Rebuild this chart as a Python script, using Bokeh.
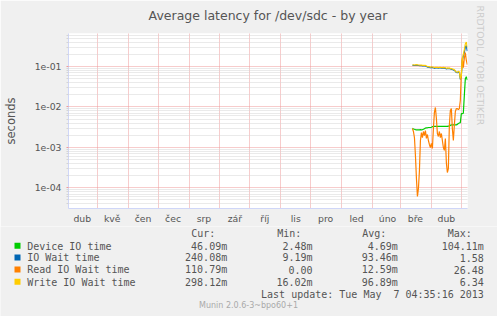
import json
import pandas as pd
from bokeh.plotting import figure
from bokeh.layouts import column
from bokeh.models import Range1d, FixedTicker, CustomJSTickFormatter, Title
from bokeh.core.properties import value
from bokeh.embed import file_html
from bokeh.resources import INLINE

# ---------------- data ----------------
title = "Average latency for /dev/sdc - by year"
month_names = ["led", "úno", "bře", "dub", "kvě", "čen", "čec", "srp", "zář", "říj", "lis", "pro"]
sample_dates = pd.date_range("2013-03-13", "2013-05-07", freq="D")

device_io = [2.95e-3, 2.85e-3, 2.8e-3, 2.75e-3, 2.72e-3, 2.7e-3, 2.7e-3, 2.72e-3, 2.75e-3, 2.72e-3,
             2.75e-3, 2.8e-3, 2.9e-3, 3.0e-3, 3.05e-3, 3.05e-3, 3.1e-3, 3.1e-3, 3.1e-3,
             3.15e-3, 3.25e-3, 3.3e-3, 3.3e-3, 3.3e-3, 3.3e-3, 3.3e-3, 3.3e-3, 3.3e-3, 3.3e-3,
             3.3e-3, 3.3e-3, 3.3e-3, 3.3e-3, 3.3e-3, 3.3e-3, 3.3e-3, 3.35e-3, 3.4e-3, 3.5e-3,
             3.6e-3, 3.6e-3, 3.6e-3, 3.6e-3, 3.6e-3, 3.6e-3, 3.7e-3, 3.9e-3, 4.0e-3, 4.1e-3,
             6.8e-3, 6.8e-3, 7.0e-3, 1.9e-2, 5.0e-2, 5.6e-2, 4.61e-2]
io_wait = [0.107, 0.107, 0.106, 0.107, 0.108, 0.107, 0.106, 0.105, 0.106, 0.105,
           0.104, 0.104, 0.103, 0.103, 0.100, 0.097, 0.097, 0.095, 0.093,
           0.095, 0.094, 0.093, 0.090, 0.092, 0.092, 0.092, 0.091, 0.092, 0.092,
           0.091, 0.091, 0.092, 0.091, 0.090, 0.087, 0.089, 0.088, 0.089, 0.087,
           0.086, 0.084, 0.082, 0.080, 0.076, 0.071, 0.070, 0.073, 0.071, 0.048,
           0.058, 0.140, 0.180, 0.220, 0.300, 0.330, 0.240]
read_wait = [2.93e-3, 2.47e-3, 1.75e-3, 6.3e-4, 1.7e-4, 6.1e-5, 9.6e-5, 2.68e-4, 1.48e-3, 2.33e-3,
             1.75e-3, 2.47e-3, 1.96e-3, 2.61e-3, 1.66e-3, 2.08e-3, 1.48e-3, 1.18e-3, 9.9e-4,
             1.25e-3, 9.4e-4, 2.93e-3, 7.3e-3, 9.7e-3, 5.2e-3, 2.2e-3, 1.86e-3, 2.47e-3, 1.75e-3,
             2.2e-3, 1.48e-3, 9.9e-4, 8.4e-4, 1.66e-3, 4.2e-4, 2.39e-4, 3.0e-4, 3.5e-3, 8.2e-3,
             9.1e-3, 2.93e-3, 1.48e-3, 3.5e-3, 7.7e-3, 9.1e-3, 9.1e-3, 8.6e-3, 9.1e-3, 1.44e-2,
             6.7e-2, 0.167, 0.094, 0.158, 0.222, 0.141, 0.1108]
write_wait = [0.110, 0.110, 0.109, 0.110, 0.111, 0.110, 0.109, 0.108, 0.109, 0.108,
              0.107, 0.107, 0.106, 0.106, 0.103, 0.100, 0.100, 0.098, 0.096,
              0.098, 0.097, 0.096, 0.094, 0.095, 0.095, 0.095, 0.094, 0.095, 0.095,
              0.094, 0.094, 0.095, 0.094, 0.093, 0.090, 0.092, 0.091, 0.092, 0.090,
              0.089, 0.087, 0.085, 0.083, 0.078, 0.073, 0.072, 0.076, 0.074, 0.050,
              0.060, 0.150, 0.200, 0.260, 0.360, 0.400, 0.298]

series_names = ["Device IO time", "IO Wait time", "Read IO Wait time", "Write IO Wait time"]
series_values = [device_io, io_wait, read_wait, write_wait]
series_colors = ["#00CC00", "#0066B3", "#FF8000", "#FFCC00"]
col_headers = ["Cur:", "Min:", "Avg:", "Max:"]
cur_vals = ["46.09m", "240.08m", "110.79m", "298.12m"]
min_vals = ["2.48m", "9.19m", "0.00", "16.02m"]
avg_vals = ["4.69m", "93.46m", "12.59m", "96.89m"]
max_vals = ["104.11m", "1.58", "26.48", "6.34"]
last_update = "Last update: Tue May\u00a0 7 04:35:16 2013"
version_text = "Munin 2.0.6-3~bpo60+1"
watermark = "RRDTOOL / TOBI OETIKER"
start_time = pd.Timestamp("2012-04-02 04:35:16")
end_time = pd.Timestamp("2013-05-07 04:35:16")

# ---------------- styling ----------------
W, H = 497, 316
MAIN_H = 226
FL, FR, FT, FB = 67, 467, 33, 208
TXT = "#555555"
BG = "#F0F0F0"
AXC = "#CFD6F8"
MAJ = "#EE9999"
MIN = "#D4D4D4"

p = figure(width=W, height=MAIN_H, output_backend="svg", toolbar_location=None,
           x_axis_type="datetime", y_axis_type="log",
           x_range=Range1d(start_time, end_time), y_range=Range1d(3.076e-5, 0.6548),
           min_border_left=FL, min_border_right=W - FR, min_border_top=FT,
           min_border_bottom=MAIN_H - FB)
p.frame_align = False
p.background_fill_color = "white"
p.border_fill_color = BG
p.outline_line_color = None

p.title.text = title
p.title.align = "center"
p.title.vertical_align = "top"
p.title.text_font = "DejaVu Sans"
p.title.text_font_size = "12.5px"
p.title.text_font_style = "normal"
p.title.text_color = TXT
p.title.standoff = 15.5

p.add_layout(Title(text=watermark, align="left", offset=-28, standoff=15,
                   text_font="DejaVu Sans", text_font_size="9.3px", text_font_style="normal",
                   text_color="#CCCCCC"), "right")

for vals, col in zip(series_values, series_colors):
    p.line(sample_dates, vals, line_color=col, line_width=1.2)

# x axis: month labels at mid-month, grid at month starts
month_starts = pd.date_range("2012-04-01", "2013-05-01", freq="MS")
grid_ms = [d.value / 1e6 for d in month_starts if d > start_time]
mid_ms = [(d + pd.Timedelta(days=15)).value / 1e6 for d in month_starts[:-1]]
xax = p.below[0]
xax.ticker = FixedTicker(ticks=mid_ms)
xax.formatter = CustomJSTickFormatter(
    code="const n = %s; return n[new Date(tick).getUTCMonth()];" % json.dumps(month_names))
p.xgrid.ticker = FixedTicker(ticks=grid_ms)
p.xgrid.grid_line_color = MAJ
p.xgrid.grid_line_dash = "1 1"
xax.major_tick_line_color = None
xax.minor_tick_line_color = None
xax.major_tick_out = 0
xax.major_tick_in = 0
xax.minor_tick_out = 0
xax.axis_line_color = AXC
xax.major_label_standoff = 4
xax.major_label_text_font = "DejaVu Sans"
xax.major_label_text_font_size = "9.3px"
xax.major_label_text_color = TXT

# y axis
majors = [1e-4, 1e-3, 1e-2, 1e-1]
minors = [m * 10.0 ** k for k in range(-5, 0) for m in range(2, 10)]
p.yaxis.ticker = FixedTicker(ticks=majors, minor_ticks=minors)
p.yaxis.formatter = CustomJSTickFormatter(code="""
const e = Math.round(Math.log10(tick)); const a = Math.abs(e);
return "1e" + (e < 0 ? "-" : "+") + (a < 10 ? "0" : "") + a;""")
p.yaxis.axis_label = "seconds"
p.yaxis.axis_label_text_font = "DejaVu Sans"
p.yaxis.axis_label_text_font_size = "11.5px"
p.yaxis.axis_label_text_font_style = "normal"
p.yaxis.axis_label_text_color = TXT
p.yaxis.axis_label_standoff = 14
p.yaxis.major_label_text_font = "DejaVu Sans"
p.yaxis.major_label_text_font_size = "9.3px"
p.yaxis.major_label_text_color = TXT
p.yaxis.major_label_standoff = 5
p.yaxis.major_tick_out = 2
p.yaxis.major_tick_in = 0
p.yaxis.minor_tick_out = 2
p.yaxis.minor_tick_in = 0
p.yaxis.major_tick_line_color = MAJ
p.yaxis.minor_tick_line_color = MIN
p.yaxis.axis_line_color = AXC
p.ygrid.grid_line_color = MAJ
p.ygrid.grid_line_dash = "1 1"
p.ygrid.minor_grid_line_color = MIN
p.ygrid.minor_grid_line_dash = "1 1"

# ---------------- legend / summary panel (canvas pixel coordinates) ----------------
q = figure(width=W, height=H - MAIN_H, output_backend="svg", toolbar_location=None,
           x_range=Range1d(0, W), y_range=Range1d(H, MAIN_H),
           x_axis_location=None, y_axis_location=None,
           min_border_left=0, min_border_right=0, min_border_top=0, min_border_bottom=0)
q.frame_align = False
q.background_fill_color = BG
q.border_fill_color = BG
q.outline_line_color = None
q.grid.visible = False

rows_y = [245.7, 257.3, 269.3, 281.7]
mono = value("DejaVu Sans Mono")
q.rect(x=[17] * 4, y=[y - 0.4 for y in rows_y], width=6, height=6,
       fill_color=series_colors, line_color=None)
q.text(x=[26.7] * 4, y=rows_y, text=series_names, text_font=mono, text_font_size="10px",
       text_color=TXT, text_baseline="middle", text_align="left")
q.text(x=[190.7, 276.7, 361.7, 447.3], y=[233.3] * 4, text=col_headers, text_font=mono,
       text_font_size="10px", text_color=TXT, text_baseline="middle", text_align="left")
for col_vals, rx in zip([cur_vals, min_vals, avg_vals, max_vals], [226.7, 312, 397.3, 483.3]):
    q.text(x=[rx] * 4, y=rows_y, text=col_vals, text_font=mono, text_font_size="10px",
           text_color=TXT, text_baseline="middle", text_align="right")
q.text(x=[483.3], y=[293.7], text=[last_update], text_font=mono, text_font_size="10px",
       text_color=TXT, text_baseline="middle", text_align="right")
q.text(x=[248], y=[305], text=[version_text], text_font=value("DejaVu Sans"),
       text_font_size="8px", text_color="#AAAAAA", text_baseline="middle", text_align="center")

layout = column(p, q, spacing=0)
open("out.html", "w").write(file_html(layout, INLINE))
